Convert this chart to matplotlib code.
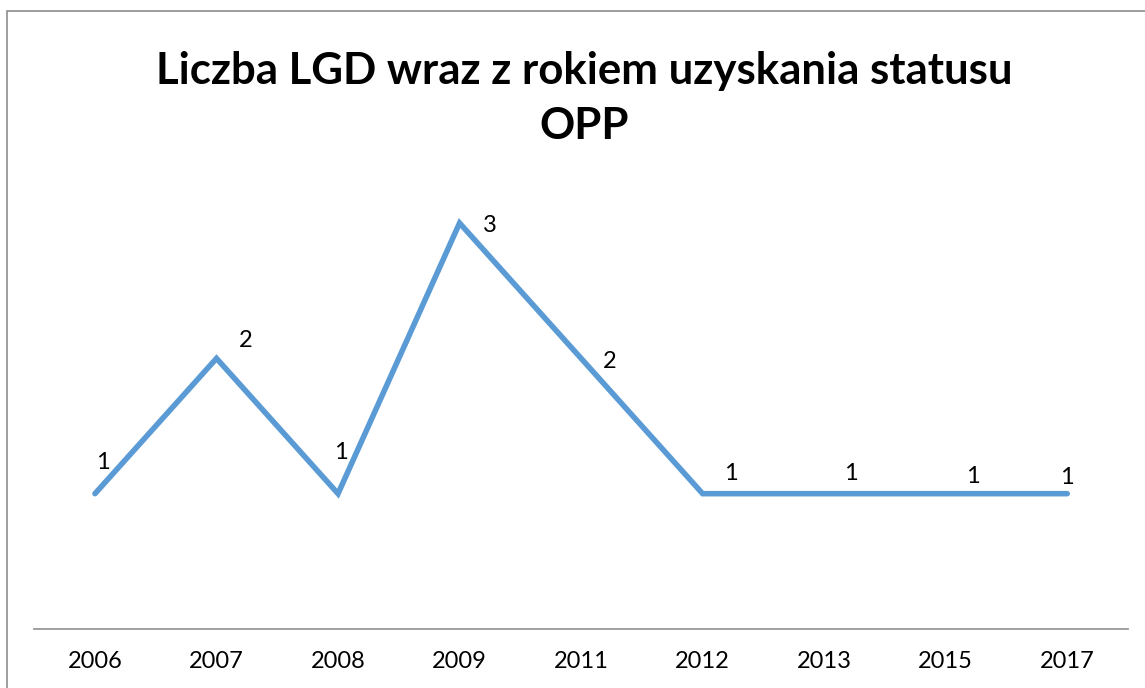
import matplotlib
matplotlib.use("Agg")
import matplotlib.pyplot as plt
from matplotlib.patches import Rectangle

years = ["2006", "2007", "2008", "2009", "2011", "2012", "2013", "2015", "2017"]
counts = [1, 2, 1, 3, 2, 1, 1, 1, 1]
title = "Liczba LGD wraz z rokiem uzyskania statusu\nOPP"

# label offsets in pixels (dx, dy) relative to each point
label_offsets_px = [(8, 31), (29, 18), (3, 41), (30, -2), (29, -3),
                    (28, 20), (27, 20), (27, 17), (0, 16)]

W, H = 1145, 688
fig = plt.figure(figsize=(W / 100, H / 100), dpi=100)
fig.patch.set_facecolor("white")

# chart border (top and left visible)
fig.add_artist(Rectangle((7 / W, -0.1), 1.5, 1.1 - 11 / H,
                         transform=fig.transFigure, fill=False,
                         edgecolor="#8c8c8c", linewidth=1.2))

ax = fig.add_axes([34.2 / W, (H - 629) / H, 1093.8 / W, 473.6 / H])
x = list(range(len(years)))
ax.plot(x, counts, color="#5B9BD5", linewidth=4.0, solid_capstyle="round",
        solid_joinstyle="miter")
ax.set_xlim(-0.5, len(years) - 0.5)
ax.set_ylim(0, 3.5)
ax.set_xticks(x)
ax.set_xticklabels(years, fontsize=17, family="Lato")
ax.tick_params(axis="x", length=0, pad=16, colors="black")
ax.set_yticks([])
for s in ["top", "right", "left"]:
    ax.spines[s].set_visible(False)
ax.spines["bottom"].set_color("#999999")
ax.spines["bottom"].set_linewidth(1.3)
ax.patch.set_alpha(0)

for xi, yi, (dx, dy) in zip(x, counts, label_offsets_px):
    ax.annotate(str(yi), (xi, yi), xytext=(dx * 0.72, dy * 0.72),
                textcoords="offset points", ha="center", va="center",
                fontsize=17, family="Lato", color="black")

fig.text(584 / W, 1 - 98.5 / H, title, ha="center", va="center",
         fontsize=31.5, fontweight="bold", family="Lato",
         linespacing=1.45)

fig.savefig("out.png", dpi=100, facecolor="white")
